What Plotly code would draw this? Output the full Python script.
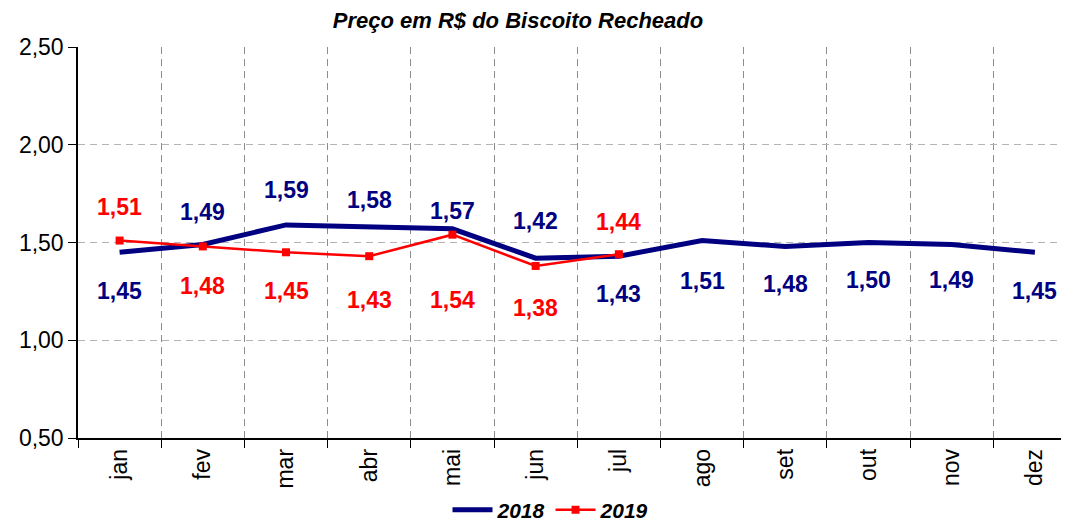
import plotly.graph_objects as go

months = ["jan", "fev", "mar", "abr", "mai", "jun", "jul", "ago", "set", "out", "nov", "dez"]
price_2018 = [1.45, 1.49, 1.59, 1.58, 1.57, 1.42, 1.43, 1.51, 1.48, 1.50, 1.49, 1.45]
price_2019 = [1.51, 1.48, 1.45, 1.43, 1.54, 1.38, 1.44]
y_ticks = [0.5, 1.0, 1.5, 2.0, 2.5]

# label offsets in pixels (style only)
shift_2018 = [-39, 32, 35, 27, 18, 37, -38, -40, -38, -37, -36, -39]
shift_2019 = [34, -40, -39, -44, -65, -42, 32]

NAVY = "#000080"
RED = "#FF0000"
FONT = "Liberation Sans, Arial, sans-serif"

# page body adds an 8px offset; figure sized to fill the remaining window
W, H = 1061, 516

fig = go.Figure()
fig.add_trace(go.Scatter(
    x=months, y=price_2018, name="2018", mode="lines",
    line=dict(color=NAVY, width=5),
))
fig.add_trace(go.Scatter(
    x=months[:len(price_2019)], y=price_2019, name="2019", mode="lines+markers",
    line=dict(color=RED, width=2.5),
    marker=dict(symbol="square", size=8, color=RED),
))

def fmt(v):
    return f"{v:.2f}".replace(".", ",")

for m, v, s in zip(months, price_2018, shift_2018):
    fig.add_annotation(x=m, y=v, xref="x", yref="y", text=fmt(v), showarrow=False,
                       yshift=s, font=dict(family=FONT, size=23, color=NAVY, weight="bold"))
for m, v, s in zip(months, price_2019, shift_2019):
    fig.add_annotation(x=m, y=v, xref="x", yref="y", text=fmt(v), showarrow=False,
                       yshift=s, font=dict(family=FONT, size=23, color=RED, weight="bold"))

fig.update_layout(
    width=W, height=H,
    margin=dict(l=70, r=0, t=39, b=86),
    paper_bgcolor="white", plot_bgcolor="white",
    separators=",.",
    font=dict(family=FONT, color="black"),
    title=dict(text="Preço em R$ do Biscoito Recheado", x=510 / W, xanchor="center",
               xref="container", y=1 - 12 / H, yref="container", yanchor="middle",
               font=dict(family=FONT, size=22, weight="bold", style="italic", color="black")),
    showlegend=True,
    legend=dict(orientation="h", xref="container", x=543 / W, xanchor="center",
                yref="container", y=1 - 502 / H, yanchor="middle",
                font=dict(family=FONT, size=21, weight="bold", style="italic", color="black"),
                bgcolor="rgba(0,0,0,0)", tracegroupgap=0, itemwidth=40),
)

fig.update_xaxes(
    type="category", categoryorder="array", categoryarray=months,
    range=[-0.5, 11.41], tickson="boundaries",
    showgrid=True, gridcolor="#8c8c8c", griddash="7px,5px", gridwidth=1,
    showline=True, linecolor="black", linewidth=1.5,
    ticks="outside", ticklen=8, tickcolor="black",
    tickangle=-90, tickfont=dict(family=FONT, size=23, color="black"),
    zeroline=False, fixedrange=True,
)
fig.update_yaxes(
    range=[0.5, 2.5], tickvals=y_ticks, tickformat=".2f",
    showgrid=True, gridcolor="#b4b4b4", griddash="7px,5px", gridwidth=1,
    showline=True, linecolor="black", linewidth=1.5,
    ticks="outside", ticklen=8, tickcolor="black",
    tickfont=dict(family=FONT, size=23, color="black"),
    zeroline=False, fixedrange=True,
)

fig.write_html("out.html")
